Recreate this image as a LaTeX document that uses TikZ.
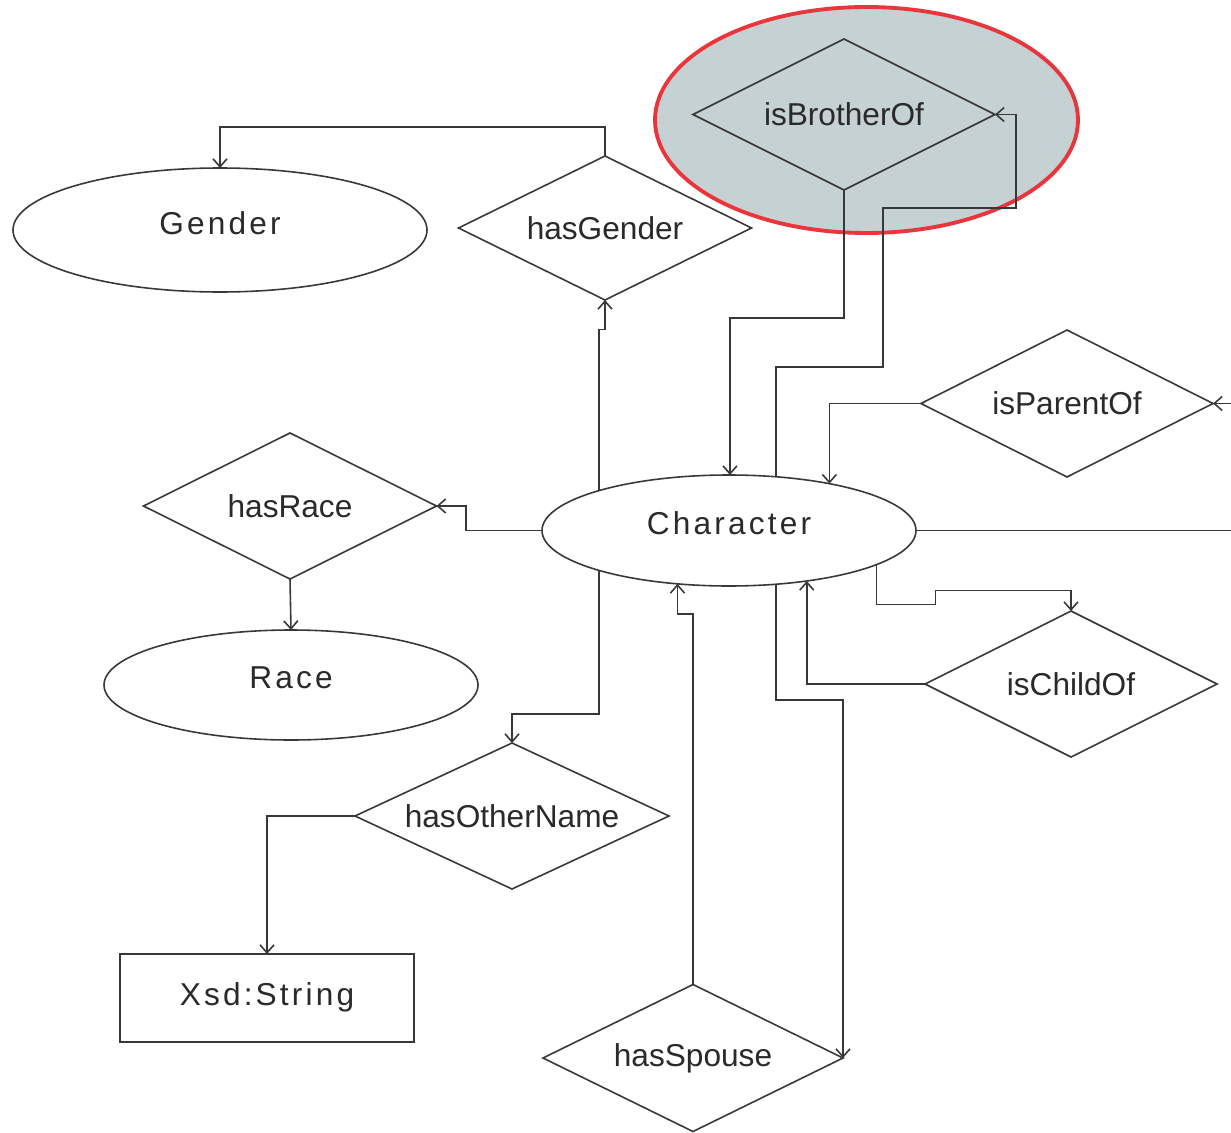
\documentclass[tikz,border=0pt]{standalone}
\usepackage{fontspec}
\setmainfont{Liberation Sans}
\newfontfamily\spacedfont[LetterSpace=10]{Liberation Sans}
\usetikzlibrary{shapes.geometric,arrows.meta,calc}
\definecolor{ln}{HTML}{383838}
\definecolor{txt}{HTML}{2A2A2A}
\definecolor{hlfill}{HTML}{C6D1D3}
\definecolor{hlred}{HTML}{E8363C}
\newcommand{\upl}[1]{\raisebox{2.8mm}{#1}}
\begin{document}
\begin{tikzpicture}[
  rel/.style={diamond, draw=ln, line width=0.9pt, inner sep=0pt, outer sep=0pt, aspect=2, text=txt, font=\fontsize{18}{20}\selectfont},
  ent/.style={ellipse, draw=ln, line width=0.9pt, inner sep=0pt, outer sep=0pt, text=txt, font=\spacedfont\fontsize{18}{20}\selectfont},
  box/.style={rectangle, draw=ln, line width=0.9pt, inner sep=0pt, outer sep=0pt, text=txt, font=\spacedfont\fontsize{18}{20}\selectfont},
  con/.style={draw=ln, line width=0.9pt},
  arr/.style={con, -{Straight Barb[length=1.6mm,width=2.8mm]}}
]
\useasboundingbox (0,0) rectangle (24.62,-22.66);
\fill[white] (0,0) rectangle (24.62,-22.66);

% highlight
\node[ellipse, fill=hlfill, draw=hlred, line width=2.2pt, minimum width=8.46cm, minimum height=4.52cm, inner sep=0pt] (hl) at (17.33,-2.40) {};

% nodes
\node[ent, minimum width=8.28cm, minimum height=2.48cm] (gender) at (4.40,-4.60) {\upl{Gender}};
\node[rel, minimum width=5.86cm, minimum height=2.88cm] (hg) at (12.10,-4.56) {hasGender};
\node[rel, minimum width=6.04cm, minimum height=3.02cm] (ib) at (16.88,-2.29) {isBrotherOf};
\node[ent, minimum width=7.48cm, minimum height=2.22cm] (ch) at (14.58,-10.61) {\upl{Character}};
\node[rel, minimum width=5.86cm, minimum height=2.92cm] (hr) at (5.80,-10.12) {hasRace};
\node[ent, minimum width=7.48cm, minimum height=2.20cm] (race) at (5.82,-13.70) {\upl{Race}};
\node[rel, minimum width=6.28cm, minimum height=2.92cm] (ho) at (10.24,-16.32) {hasOtherName};
\node[box, minimum width=5.88cm, minimum height=1.76cm] (xsd) at (5.34,-19.96) {\raisebox{1.6mm}{Xsd:String}};
\node[rel, minimum width=6.00cm, minimum height=2.94cm] (hs) at (13.86,-21.16) {hasSpouse};
\node[rel, minimum width=5.84cm, minimum height=2.94cm] (ip) at (21.34,-8.07) {isParentOf};
\node[rel, minimum width=5.84cm, minimum height=2.92cm] (ic) at (21.42,-13.68) {isChildOf};

\coordinate (r1) at (24.62,-8.07);
\coordinate (r2) at (24.62,-10.61);

% connectors
\draw[arr] (hg.north) -- ++(0,0.58) -| (gender.north);
\draw[arr] (ch.163.4) -- ++(0,3.22) -| (hg.south);
\draw[arr] (ib.south) -- ++(0,-2.56) -| (ch.89);
\draw[arr] (ch.49.5) -- ++(0,2.2) -- ++(2.14,0) -- ++(0,3.18) -- ++(2.66,0) |- (ib.east);
\draw[arr] (ip.west) -| (ch.25.4);
\draw[arr] (r1) -- (ip.east);
\draw[con] (ch.east) -- (r2);
\draw[arr] (ch.west) -- ++(-1.52,0) |- (hr.east);
\draw[arr] (hr.south) -- (race.north);
\draw[arr] (ch.-163.2) -- ++(0,-2.87) -| (ho.north);
\draw[arr] (ho.west) -| (xsd.north);
\draw[arr] (hs.north) |- ([yshift=-6mm]ch.-134.3) -- (ch.-134.3);
\draw[arr] (ch.-49.5) -- ++(0,-2.31) -| (hs.east);
\draw[arr] (ic.west) -| (ch.-33.3);
\draw[arr] (ch.-13.1) -- ++(0,-0.8) -- ++(1.18,0) -- ++(0,0.28) -| (ic.north);
\end{tikzpicture}
\end{document}
